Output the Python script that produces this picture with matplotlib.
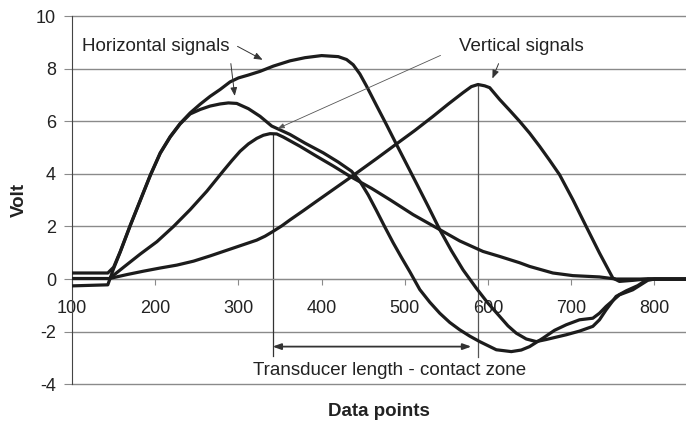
import matplotlib
matplotlib.use('Agg')
import matplotlib.pyplot as plt

plt.rcParams['font.family'] = ['Liberation Sans', 'DejaVu Sans']
plt.rcParams['axes.unicode_minus'] = False

# horizontal signal 1 (upper peak ~8.5)
hor1_x = [100, 143, 150, 158, 170, 182, 194, 206, 218, 230, 242, 254, 266, 278, 290, 300, 312, 326, 342,
          362, 380, 400, 420, 430, 438, 446, 454, 466, 478, 490, 502, 514, 528, 542, 556, 570, 586,
          600, 614, 624, 634, 646, 658, 670, 694, 710, 726, 734, 742, 754, 766, 780, 792, 840]
hor1_y = [0.23, 0.23, 0.45, 1.05, 2.05, 3.0, 3.95, 4.8, 5.42, 5.92, 6.32, 6.65, 6.95, 7.21, 7.5, 7.65, 7.76, 7.9, 8.1,
          8.3, 8.42, 8.5, 8.46, 8.35, 8.15, 7.8, 7.34, 6.6, 5.87, 5.12, 4.38, 3.64, 2.77, 1.88, 1.08, 0.35, -0.35,
          -0.92, -1.42, -1.78, -2.06, -2.28, -2.38, -2.3, -2.12, -1.98, -1.8, -1.55, -1.17, -0.66, -0.45, -0.25, 0.0, 0.0]

# horizontal signal 2 (peak ~6.7)
hor2_x = [100, 143, 150, 158, 170, 182, 194, 206, 218, 230, 242, 254, 266, 278, 288, 298, 312, 326, 340,
          362, 380, 402, 420, 436, 446, 456, 466, 476, 486, 496, 506, 518, 530, 542, 554, 566, 578,
          590, 610, 628, 640, 650, 666, 680, 694, 710, 726, 734, 742, 758, 774, 792, 800, 840]
hor2_y = [-0.26, -0.22, 0.4, 1.03, 2.03, 2.98, 3.93, 4.78, 5.4, 5.9, 6.28, 6.45, 6.58, 6.66, 6.7, 6.68, 6.48, 6.19, 5.82,
          5.5, 5.17, 4.8, 4.45, 4.1, 3.72, 3.2, 2.6, 1.98, 1.38, 0.82, 0.28, -0.4, -0.88, -1.3, -1.65, -1.93, -2.17,
          -2.38, -2.69, -2.76, -2.7, -2.57, -2.25, -1.95, -1.74, -1.55, -1.49, -1.3, -1.04, -0.6, -0.41, -0.05, 0.0, 0.0]

# vertical signal 1 (peak ~5.5 at 340)
ver1_x = [100, 145, 162, 182, 202, 222, 242, 262, 282, 292, 302, 312, 322, 330, 338, 346, 354, 374, 394, 414, 434,
          460, 482, 510, 542, 566, 594, 614, 638, 650, 678, 702, 734, 754, 840]
ver1_y = [0.02, 0.02, 0.45, 0.95, 1.42, 2.0, 2.64, 3.34, 4.12, 4.5, 4.86, 5.14, 5.35, 5.47, 5.53, 5.52, 5.4, 5.05, 4.67, 4.3, 3.91,
          3.45, 3.02, 2.45, 1.88, 1.45, 1.05, 0.86, 0.62, 0.48, 0.23, 0.13, 0.08, 0.0, 0.0]

# vertical signal 2 (peak ~7.4 at 590)
ver2_x = [145, 166, 186, 206, 226, 246, 266, 294, 322, 332, 341, 352, 362, 378, 394, 434, 466, 490,
          512, 534, 552, 570, 580, 588, 596, 602, 614, 626, 638, 650, 662, 674, 686, 702, 718, 734,
          750, 758, 774, 790, 840]
ver2_y = [0.02, 0.17, 0.3, 0.42, 0.53, 0.68, 0.88, 1.18, 1.48, 1.63, 1.8, 2.02, 2.25, 2.6, 2.96, 3.85, 4.58, 5.14,
          5.65, 6.19, 6.65, 7.09, 7.32, 7.4, 7.35, 7.28, 6.83, 6.42, 6.0, 5.55, 5.05, 4.52, 3.97, 3.02, 2.0, 0.99,
          0.04, -0.09, -0.05, 0.0, 0.0]

yticks = [-4, -2, 0, 2, 4, 6, 8, 10]
xticks = [100, 200, 300, 400, 500, 600, 700, 800]
peak_left = 341
peak_right = 588

fig = plt.figure(figsize=(6.86, 4.25), dpi=100)
ax = fig.add_axes([0.105, 0.096, 0.895, 0.866])
ax.set_xlim(100, 838)
ax.set_ylim(-4, 10)

grid_col = '#8a8a8a'
for v in yticks:
    ax.axhline(v, color=grid_col, lw=1.0, zorder=1, clip_on=False)

for xs, ys in [(hor1_x, hor1_y), (hor2_x, hor2_y), (ver1_x, ver1_y), (ver2_x, ver2_y)]:
    ax.plot(xs, ys, color='#1c1c1c', lw=2.3, zorder=3, solid_joinstyle='round')

# vertical marker lines
ax.plot([peak_left, peak_left], [5.5, -2.92], color='#333333', lw=0.9, zorder=2)
ax.plot([peak_right, peak_right], [7.4, -2.95], color='#555555', lw=0.9, zorder=2)

ax.spines['top'].set_visible(False)
ax.spines['right'].set_visible(False)
ax.spines['left'].set_color('#444444')
ax.spines['bottom'].set_position(('data', 0))
ax.spines['bottom'].set_color(grid_col)

ax.set_yticks(yticks)
ax.set_xticks(xticks)
ax.tick_params(axis='y', direction='out', length=5.5, color=grid_col, pad=6, labelsize=13, labelcolor='#222222')
ax.tick_params(axis='x', direction='out', length=4.3, color=grid_col, pad=11, labelsize=13, labelcolor='#222222')

ax.text(0.5, -0.073, 'Data points', transform=ax.transAxes, ha='center', va='center',
        fontsize=13.5, fontweight='bold', color='#222222')
ax.text(-0.085, 0.5, 'Volt', transform=ax.transAxes, ha='center', va='center', rotation=90,
        fontsize=13.5, fontweight='bold', color='#222222')

small = dict(arrowstyle='-|>,head_length=0.5,head_width=0.2', color='#333333', lw=0.7)
ax.text(112, 8.86, 'Horizontal signals', fontsize=13.5, color='#222222', ha='left', va='center')
ax.annotate('', xy=(332, 8.29), xytext=(296, 8.9), arrowprops=small)
ax.annotate('', xy=(296, 6.86), xytext=(290.5, 8.3), arrowprops=small)

ax.text(640, 8.86, 'Vertical signals', fontsize=13.5, color='#222222', ha='center', va='center')
ax.annotate('', xy=(604, 7.53), xytext=(614, 8.29), arrowprops=small)
ax.annotate('', xy=(344, 5.68), xytext=(546, 8.55),
            arrowprops=dict(arrowstyle='-|>,head_length=0.4,head_width=0.15', color='#555555', lw=0.6))

ax.annotate('', xy=(580, -2.57), xytext=(341, -2.57),
            arrowprops=dict(arrowstyle='<|-|>,head_length=0.5,head_width=0.18', color='#333333', lw=1.3,
                            shrinkA=0, shrinkB=0))
ax.text(482, -3.46, 'Transducer length - contact zone', fontsize=13.5, color='#222222', ha='center', va='center')

fig.savefig('out.png', dpi=100)
